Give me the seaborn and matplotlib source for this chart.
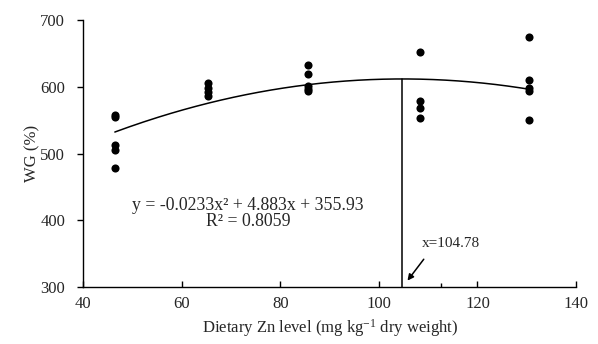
import numpy as np
import pandas as pd
import matplotlib
matplotlib.use("Agg")
import matplotlib.pyplot as plt
import seaborn as sns

# Dietary Zn levels (mg/kg dry weight) and weight gain replicates
zn_level = [46.4] * 5 + [65.4] * 4 + [85.6] * 5 + [108.3] * 4 + [130.4] * 5
wg = [558, 555, 513, 505, 479,
      605, 598, 592, 587,
      633, 619, 601, 596, 593,
      652, 579, 569, 554,
      674, 610, 598, 594, 551]

# Quadratic fit reported on the chart
coef_a, coef_b, coef_c = -0.0233, 4.883, 355.93
r_squared = 0.8059
optimum_x = 104.78

x_ticks = [40, 60, 80, 100, 120, 140]
y_ticks = [300, 400, 500, 600, 700]

sns.set_theme(style="white")
plt.rcParams["font.family"] = ["Liberation Serif", "DejaVu Serif"]
plt.rcParams["mathtext.fontset"] = "custom"
plt.rcParams["mathtext.rm"] = "Liberation Serif"
plt.rcParams["mathtext.it"] = "Liberation Serif:italic"
plt.rcParams["mathtext.default"] = "rm"

df = pd.DataFrame({"zn": zn_level, "wg": wg})
x_fit = np.linspace(min(zn_level), max(zn_level), 200)
fit_df = pd.DataFrame({"zn": x_fit, "wg": coef_a * x_fit ** 2 + coef_b * x_fit + coef_c})
y_opt = coef_a * optimum_x ** 2 + coef_b * optimum_x + coef_c

fig = plt.figure(figsize=(5.98, 3.44), dpi=100)
ax = fig.add_axes([0.1393, 0.1648, 0.8239, 0.7771])

sns.lineplot(data=fit_df, x="zn", y="wg", ax=ax, color="black", linewidth=1.1)
sns.scatterplot(data=df, x="zn", y="wg", ax=ax, color="black", s=34,
                edgecolor="black", linewidth=0, zorder=3)

# optimum marker line
ax.plot([optimum_x, optimum_x], [300, y_opt], color="black", linewidth=1.1)
ax.annotate("", xy=(105.8, 310), xytext=(109.1, 342),
            arrowprops=dict(arrowstyle="-|>", color="black", lw=1.1,
                            mutation_scale=9, shrinkA=0, shrinkB=0))
ax.text(108.8, 366, f"x={optimum_x}", fontsize=11, ha="left", va="center")

ax.text(73.4, 423, f"y = {coef_a}x\u00b2 + {coef_b}x + {coef_c}",
        fontsize=12.8, ha="center", va="center")
ax.text(73.4, 399, f"R\u00b2 = {r_squared}", fontsize=12.8, ha="center", va="center")

ax.set_xlim(40, 140)
ax.set_ylim(300, 700)
ax.set_xticks(x_ticks)
ax.set_yticks(y_ticks)
ax.set_xticks([112.5], minor=True)
ax.tick_params(axis="x", which="both", direction="in", length=4, width=1,
               color="black", labelsize=12, pad=6, bottom=True)
ax.tick_params(axis="y", direction="out", length=4, width=1,
               color="black", labelsize=12, pad=9, left=True)
ax.tick_params(axis="x", which="minor", length=3)

for side in ["top", "right"]:
    ax.spines[side].set_visible(False)
for side in ["left", "bottom"]:
    ax.spines[side].set_color("black")
    ax.spines[side].set_linewidth(1.0)

ax.set_xlabel("Dietary Zn level (mg kg$^{-1}$ dry weight)", fontsize=12, labelpad=4)
ax.set_ylabel("WG (%)", fontsize=12, labelpad=0)

fig.savefig("out.png", dpi=100)
